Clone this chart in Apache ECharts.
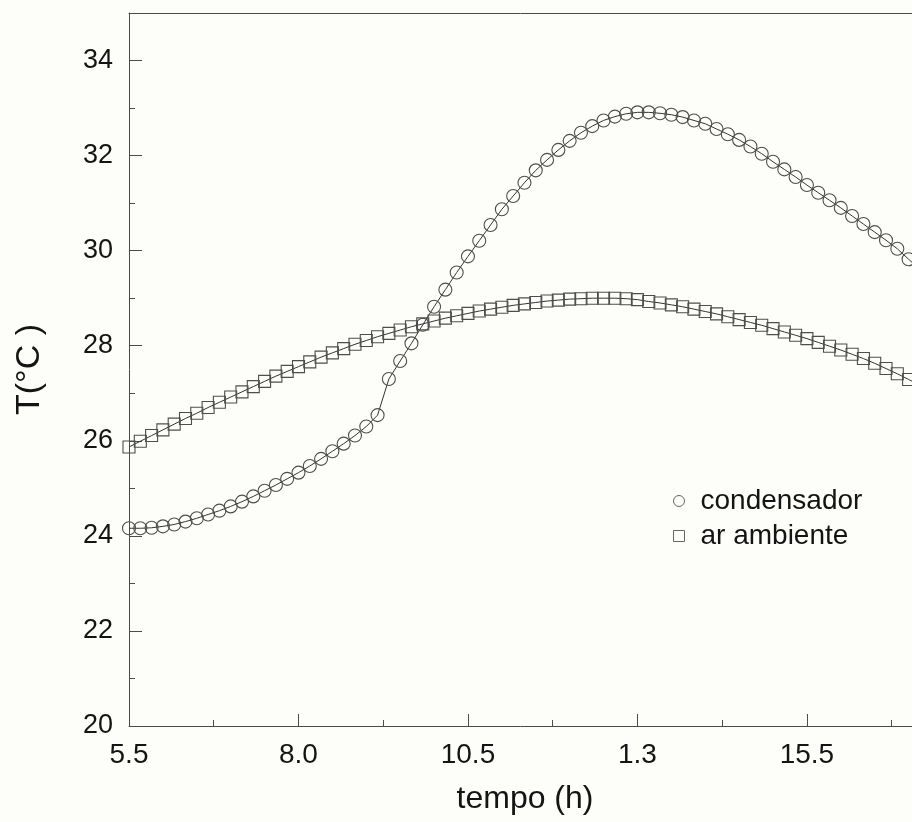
<!DOCTYPE html>
<html>
<head>
<meta charset="utf-8">
<script src="https://cdn.jsdelivr.net/npm/echarts@6/dist/echarts.min.js"></script>
<style>
  html, body { margin: 0; padding: 0; background: #fdfdf9; }
  #chart-container { width: 912px; height: 822px; }
</style>
</head>
<body>
<div id="chart-container"></div>
<script>
// time in hours, one reading every 10 min starting at 5.5 h
var startHour = 5.5;
var stepHour = 1 / 6;

var condensador = [
  24.16, 24.16, 24.17, 24.20, 24.24, 24.30, 24.37, 24.45, 24.53, 24.62,
  24.72, 24.83, 24.95, 25.07, 25.20, 25.33, 25.47, 25.62, 25.78, 25.94,
  26.11, 26.30, 26.54, 27.30, 27.68, 28.05, 28.44, 28.82, 29.18, 29.54,
  29.88, 30.21, 30.54, 30.87, 31.15, 31.43, 31.69, 31.91, 32.12, 32.31,
  32.48, 32.62, 32.74, 32.82, 32.88, 32.91, 32.91, 32.89, 32.86, 32.81,
  32.74, 32.67, 32.56, 32.45, 32.33, 32.19, 32.04, 31.87, 31.71, 31.55,
  31.38, 31.22, 31.06, 30.90, 30.73, 30.56, 30.39, 30.22, 30.04, 29.82,
  29.60
];

var arAmbiente = [
  25.87, 25.99, 26.11, 26.23, 26.35, 26.47, 26.58, 26.70, 26.81, 26.92,
  27.03, 27.14, 27.25, 27.36, 27.46, 27.56, 27.66, 27.76, 27.85, 27.94,
  28.03, 28.11, 28.19, 28.26, 28.33, 28.40, 28.46, 28.52, 28.58, 28.63,
  28.68, 28.73, 28.77, 28.81, 28.85, 28.88, 28.91, 28.94, 28.96, 28.98,
  28.99, 29.00, 29.00, 29.00, 28.99, 28.97, 28.93, 28.90, 28.86, 28.82,
  28.77, 28.72, 28.67, 28.61, 28.55, 28.49, 28.43, 28.36, 28.29, 28.22,
  28.15, 28.07, 27.99, 27.91, 27.82, 27.73, 27.63, 27.52, 27.41, 27.29,
  27.17
];

var xTicks = [5.5, 8.0, 10.5, 13.0, 15.5];
var xTickLabels = ['5.5', '8.0', '10.5', '1.3', '15.5'];
var xMinorTicks = [6.75, 9.25, 11.75, 14.25, 16.75];
var yTicks = [20, 22, 24, 26, 28, 30, 32, 34];
var yMinorTicks = [21, 23, 25, 27, 29, 31, 33];

function toPairs(values) {
  return values.map(function (v, i) { return [startHour + i * stepHour, v]; });
}

var dom = document.getElementById('chart-container');
var myChart = echarts.init(dom, null, { renderer: 'canvas' });

var axisColor = '#4a4a4a';
var markColor = '#4d4d4d';
var textColor = '#141414';
var fontName = 'Liberation Sans, Arial, sans-serif';

// the plot runs past the right edge of the picture, so x max is where the page is cut
var xMin = 5.5, xMax = 17.05;

var option = {
  backgroundColor: '#fdfdf9',
  animation: false,
  grid: { left: 129, top: 13, right: 0, bottom: 96 },
  legend: {
    orient: 'vertical',
    left: 668, top: 482,
    itemWidth: 11, itemHeight: 11,
    itemGap: 7,
    textStyle: { fontSize: 28, color: textColor, fontFamily: fontName, padding: [0, 0, 0, 11] },
    data: [
      { name: 'condensador', icon: 'circle',
        itemStyle: { color: 'transparent', borderColor: '#666', borderWidth: 1 } },
      { name: 'ar ambiente', icon: 'rect',
        itemStyle: { color: 'transparent', borderColor: '#666', borderWidth: 1 } }
    ]
  },
  xAxis: [
    {
      type: 'value', min: xMin, max: xMax,
      position: 'bottom',
      name: 'tempo (h)', nameLocation: 'middle', nameGap: 57,
      nameTextStyle: { fontSize: 32, color: textColor, fontFamily: fontName, padding: [0, 0, 0, 9] },
      axisLine: { show: true, lineStyle: { color: axisColor, width: 1 } },
      axisTick: { show: true, inside: true, length: 12, customValues: xTicks,
        lineStyle: { color: axisColor } },
      axisLabel: {
        customValues: xTicks, margin: 15,
        fontSize: 28, color: textColor, fontFamily: fontName,
        formatter: function (v) {
          var idx = xTicks.indexOf(v);
          return idx >= 0 ? xTickLabels[idx] : '';
        }
      },
      splitLine: { show: false }
    },
    {
      type: 'value', min: xMin, max: xMax,
      position: 'bottom',
      axisLine: { show: false },
      axisTick: { show: true, inside: true, length: 6, customValues: xMinorTicks,
        lineStyle: { color: axisColor } },
      axisLabel: { show: false },
      splitLine: { show: false }
    },
    {
      // top frame line
      type: 'value', min: xMin, max: xMax,
      position: 'top',
      axisLine: { show: true, lineStyle: { color: axisColor, width: 1 } },
      axisTick: { show: false },
      axisLabel: { show: false },
      splitLine: { show: false }
    }
  ],
  yAxis: [
    {
      type: 'value', min: 20, max: 35,
      position: 'left',
      name: 'T(°C )', nameLocation: 'middle', nameGap: 82,
      nameTextStyle: { fontSize: 34, color: textColor, fontFamily: fontName },
      axisLine: { show: true, lineStyle: { color: axisColor, width: 1 } },
      axisTick: { show: true, inside: true, length: 13, customValues: yTicks,
        lineStyle: { color: axisColor } },
      axisLabel: {
        customValues: yTicks, margin: 16,
        fontSize: 27, color: textColor, fontFamily: fontName
      },
      splitLine: { show: false }
    },
    {
      type: 'value', min: 20, max: 35,
      position: 'left',
      axisLine: { show: false },
      axisTick: { show: true, inside: true, length: 6, customValues: yMinorTicks,
        lineStyle: { color: axisColor } },
      axisLabel: { show: false },
      splitLine: { show: false }
    }
  ],
  series: [
    {
      name: 'condensador',
      type: 'line',
      data: toPairs(condensador),
      symbol: 'circle',
      symbolSize: 13,
      itemStyle: { color: 'transparent', borderColor: markColor, borderWidth: 1.1 },
      lineStyle: { color: '#333', width: 1 }
    },
    {
      name: 'ar ambiente',
      type: 'line',
      data: toPairs(arAmbiente),
      symbol: 'rect',
      symbolSize: 12,
      itemStyle: { color: 'transparent', borderColor: markColor, borderWidth: 1.1 },
      lineStyle: { color: '#333', width: 1 }
    }
  ]
};

if (option && typeof option === 'object') {
  myChart.setOption(option);
}

window.addEventListener('resize', myChart.resize);
</script>
</body>
</html>
